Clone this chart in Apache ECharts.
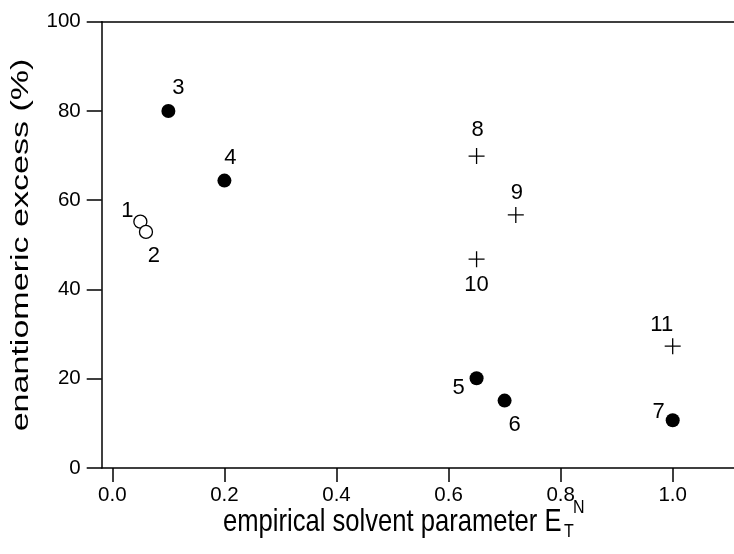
<!DOCTYPE html>
<html>
<head>
    <meta charset="utf-8">
    <title>ECharts</title>
    <script type="text/javascript" src="https://cdn.jsdelivr.net/npm/echarts@6/dist/echarts.min.js"></script>
</head>
<body style="margin:0">
<div id="main" style="width: 734px;height: 554px"></div>

<script>
    // 实心圆点 (3-7)
    var filledIds = ['3', '4', '5', '6', '7'];
    var filledX = [0.10, 0.20, 0.65, 0.70, 1.00];
    var filledY = [80.0, 64.4, 20.1, 15.1, 10.7];

    // 空心圆点 (1-2)
    var openIds = ['1', '2'];
    var openX = [0.05, 0.06];
    var openY = [55.2, 52.9];

    // 十字 (8-11)
    var crossIds = ['8', '9', '10', '11'];
    var crossX = [0.65, 0.72, 0.65, 1.00];
    var crossY = [69.9, 56.7, 46.8, 27.3];

    var xTicks = [0, 0.2, 0.4, 0.6, 0.8, 1.0];

    // 标签偏移 (像素)
    var labelOffset = {
        '1': [-13, -11], '2': [8, 24], '3': [10, -23], '4': [6, -23],
        '5': [-18, 10], '6': [10, 24], '7': [-14, -8], '8': [1, -26],
        '9': [1, -22], '10': [0, 26], '11': [-11, -21]
    };

    var font = 'Liberation Sans, Arial, Helvetica, sans-serif';

    function points(ids, xs, ys) {
        var out = [];
        for (var i = 0; i < ids.length; i++) {
            out.push({
                name: ids[i],
                value: [xs[i], ys[i]],
                label: {offset: labelOffset[ids[i]]}
            });
        }
        return out;
    }

    var pointLabel = {
        show: true,
        position: 'inside',
        formatter: '{b}',
        color: '#000',
        fontSize: 22,
        fontFamily: font
    };

    var myChart = echarts.init(document.getElementById('main'));
    myChart.setOption({
        backgroundColor: '#fff',
        animation: false,
        grid: {left: 101.7, right: 0, top: 21.7, bottom: 86},
        xAxis: [{
            type: 'value',
            min: -0.019,
            max: 1.1094,
            position: 'bottom',
            splitLine: {show: false},
            axisLine: {onZero: false, lineStyle: {color: '#000', width: 1.5}},
            axisTick: {show: true, inside: false, length: 14, customValues: xTicks,
                lineStyle: {color: '#000', width: 1.5}},
            axisLabel: {customValues: xTicks, margin: 17, color: '#000', fontSize: 20.5, fontFamily: font,
                formatter: function (v) { return v.toFixed(1); }}
        }, {
            type: 'value',
            min: -0.019,
            max: 1.1094,
            position: 'top',
            splitLine: {show: false},
            axisLine: {show: true, onZero: false, lineStyle: {color: '#000', width: 1.5}},
            axisTick: {show: false},
            axisLabel: {show: false}
        }],
        yAxis: {
            type: 'value',
            min: 0,
            max: 100,
            interval: 20,
            splitLine: {show: false},
            axisLine: {show: true, onZero: false, lineStyle: {color: '#000', width: 1.5}},
            axisTick: {show: true, inside: false, length: 15, lineStyle: {color: '#000', width: 1.5}},
            axisLabel: {margin: 21, color: '#000', fontSize: 20.5, fontFamily: font}
        },
        graphic: [{
            type: 'text',
            x: 22, y: 245,
            rotation: Math.PI / 2,
            scaleX: 1.48,
            style: {text: 'enantiomeric excess (%)', fill: '#000', fontSize: 23, fontFamily: font,
                textAlign: 'center', textVerticalAlign: 'middle'}
        }, {
            type: 'text',
            x: 223, y: 522,
            scaleY: 1.23,
            style: {text: 'empirical solvent parameter E', fill: '#000', fontSize: 25.6, fontFamily: font,
                textAlign: 'left', textVerticalAlign: 'middle'}
        }, {
            type: 'text',
            x: 564, y: 532,
            scaleY: 1.2,
            style: {text: 'T', fill: '#000', fontSize: 16, fontFamily: font,
                textAlign: 'left', textVerticalAlign: 'middle'}
        }, {
            type: 'text',
            x: 573, y: 508,
            scaleY: 1.2,
            style: {text: 'N', fill: '#000', fontSize: 16, fontFamily: font,
                textAlign: 'left', textVerticalAlign: 'middle'}
        }],
        series: [{
            type: 'scatter',
            name: 'open',
            symbol: 'circle',
            symbolSize: 13,
            itemStyle: {color: '#fff', opacity: 1, borderColor: '#000', borderWidth: 1.3},
            label: pointLabel,
            data: points(openIds, openX, openY)
        }, {
            type: 'scatter',
            name: 'filled',
            symbol: 'circle',
            symbolSize: 14,
            itemStyle: {color: '#000', opacity: 1},
            label: pointLabel,
            data: points(filledIds, filledX, filledY)
        }, {
            type: 'scatter',
            name: 'cross',
            symbol: 'path://M0,8 L16,8 M8,0 L8,16',
            symbolSize: 16,
            itemStyle: {color: 'none', opacity: 1, borderColor: '#000', borderWidth: 1.3},
            label: pointLabel,
            data: points(crossIds, crossX, crossY)
        }]
    });
</script>
</body>
</html>
